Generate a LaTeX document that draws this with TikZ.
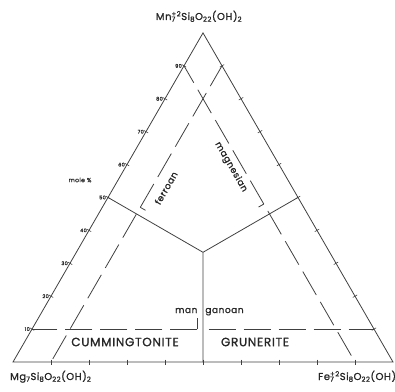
\documentclass[tikz,border=0pt]{standalone}
\usepackage{fontspec}
\setmainfont{Poppins}[LetterSpace=6,FakeBold=1.2]
\usetikzlibrary{calc}
\newcommand\ExpInd[2]{{\sbox0{\textsuperscript{#1}}\sbox2{\textsubscript{#2}}\rlap{\usebox2}\usebox0}}

\begin{document}
\begin{tikzpicture}[x=1pt,y=1pt]
	% Styles (MODIFIABLES)
	\tikzstyle{cote}=[black!75,line width=0.8pt]
	\tikzstyle{limite}=[black!75,line width=0.8pt]
	\tikzstyle{pointille}=[black!75,line width=0.8pt,dash pattern=on 27pt off 8pt]
	\tikzstyle{crochet}=[black!75,line width=0.8pt]
	\tikzstyle{graduation}=[black!75,line width=0.6pt]
	\tikzstyle{formule}=[black!85,inner sep=0pt,font=\fontsize{10}{12}\selectfont]
	\tikzstyle{nom}=[black!85,inner sep=0pt,font=\fontsize{12}{14}\selectfont]
	\tikzstyle{qualificatif}=[black!85,inner sep=0pt,font=\fontsize{9}{11}\selectfont]
	\tikzstyle{commentaire}=[black!85,inner sep=0pt,font=\fontsize{5}{6}\selectfont]
	% Dimensions (MODIFIABLES)
	\def\Cote{380}
	\def\OrigineX{13}
	\def\OrigineY{29}
	\def\LongueurGraduation{2.5}
	% Cadre
	\useasboundingbox (0,0) rectangle (395,391);
	% Sommets
	\coordinate (Mg) at (\OrigineX,\OrigineY);
	\coordinate (Fe) at ({\OrigineX+\Cote},\OrigineY);
	\coordinate (Mn) at ({\OrigineX+\Cote/2},{\OrigineY+\Cote*sqrt(3)/2});
	% Points remarquables
	\coordinate (G) at (barycentric cs:Mn=1,Mg=1,Fe=1);
	\coordinate (MnMg) at (barycentric cs:Mn=1,Mg=1,Fe=0);
	\coordinate (MnFe) at (barycentric cs:Mn=1,Mg=0,Fe=1);
	\coordinate (MgFe) at (barycentric cs:Mn=0,Mg=1,Fe=1);
	% Limites a 10 %
	\coordinate (MnG) at (barycentric cs:Mn=0.1,Mg=0.9,Fe=0);
	\coordinate (MnD) at (barycentric cs:Mn=0.1,Mg=0,Fe=0.9);
	\coordinate (FeH) at (barycentric cs:Mn=0.9,Mg=0,Fe=0.1);
	\coordinate (FeB) at (barycentric cs:Mn=0,Mg=0.9,Fe=0.1);
	\coordinate (MgH) at (barycentric cs:Mn=0.9,Mg=0.1,Fe=0);
	\coordinate (MgB) at (barycentric cs:Mn=0,Mg=0.1,Fe=0.9);
	% Crochets
	\coordinate (CrFe) at (barycentric cs:Mn=0.47,Mg=0.43,Fe=0.1);
	\coordinate (CrMg) at (barycentric cs:Mn=0.48,Mg=0.1,Fe=0.42);
	\coordinate (CrMn) at (barycentric cs:Mn=0.1,Mg=0.465,Fe=0.435);
	\coordinate (CrMnBis) at (barycentric cs:Mn=0.1,Mg=0.435,Fe=0.465);
	\coordinate (CrFeFin) at ($(CrFe)+(-30:6)$);
	\coordinate (CrMgFin) at ($(CrMg)+(210:6)$);
	\coordinate (CrMnFin) at ($(CrMn)+(90:11)$);
	% Triangle
	\draw[cote] (Mg)--(Fe)--(Mn)--cycle;
	% Graduations
	\foreach \k in {1,...,9}{
		\pgfmathtruncatemacro\r{10-\k}
		\coordinate (gG\k) at (barycentric cs:Mn=\k,Mg=\r,Fe=0);
		\coordinate (gD\k) at (barycentric cs:Mn=\k,Mg=0,Fe=\r);
		\coordinate (gB\k) at (barycentric cs:Mn=0,Mg=\r,Fe=\k);
		\draw[graduation] (gG\k) ++(150:\LongueurGraduation) -- ++(-30:2*\LongueurGraduation);
		\draw[graduation] (gD\k) ++(30:\LongueurGraduation) -- ++(210:2*\LongueurGraduation);
		\draw[graduation] (gB\k) ++(90:\LongueurGraduation) -- ++(-90:2*\LongueurGraduation);
		\node[commentaire,anchor=east] (eG\k) at ([xshift=-2pt]gG\k) {\k0};
	}
	% Limites (traits pleins)
	\draw[limite] (MnMg)--(G);
	\draw[limite] (MnFe)--(G);
	\draw[limite] (MgFe)--(G);
	% Limites a 10 % (pointilles)
	\draw[pointille] (CrMn)--(MnG);
	\draw[pointille] (CrMnBis)--(MnD);
	\draw[pointille] (CrFe)--(FeH);
	\draw[pointille,dash phase=27pt] (CrFe)--(FeB);
	\draw[pointille] (CrMg)--(MgH);
	\draw[pointille,dash phase=27pt] (CrMg)--(MgB);
	% Crochets
	\draw[crochet] (CrFe)--(CrFeFin);
	\draw[crochet] (CrMg)--(CrMgFin);
	\draw[crochet] (CrMn)--(CrMnFin);
	% Sommets (formules)
	\node[formule,anchor=base] (fMn) at (199,371) {Mn\ExpInd{+2}{7}Si\textsubscript{8}O\textsubscript{22}(OH)\textsubscript{2}};
	\node[formule,anchor=base west] (fMg) at (10,11) {Mg\textsubscript{7}Si\textsubscript{8}O\textsubscript{22}(OH)\textsubscript{2}};
	\node[formule,anchor=base west] (fFe) at (318,11) {Fe\ExpInd{+2}{7}Si\textsubscript{8}O\textsubscript{22}(OH)\textsubscript{2}};
	% Noms
	\node[nom] (cumm) at (125,49) {CUMMINGTONITE};
	\node[nom] (grun) at (255,49) {GRUNERITE};
	\node[qualificatif,rotate=60] (ferr) at (166,203) {ferroan};
	\node[qualificatif,rotate=-60] (magn) at (231,224) {magnesian};
	\node[qualificatif,anchor=base west] (mang) at (175,78) {man\hspace{8pt}ganoan};
	\node[commentaire,font=\fontsize{6}{7}\selectfont] (mole) at (80,211) {mole \%};
\end{tikzpicture}
\end{document}
